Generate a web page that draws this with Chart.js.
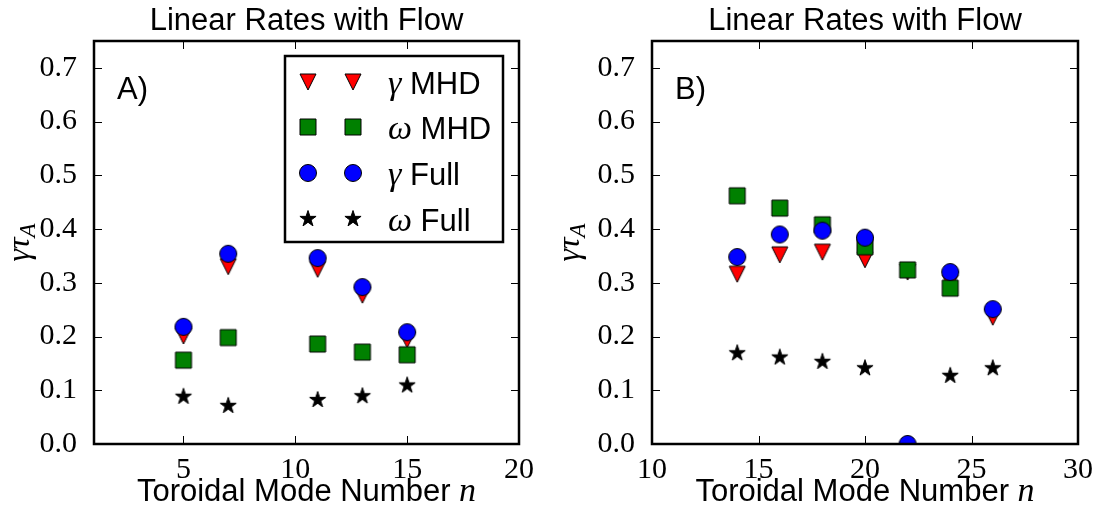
<!DOCTYPE html>
<html>
<head>
<meta charset="utf-8">
<script src="https://cdn.jsdelivr.net/npm/chart.js@4.4.1/dist/chart.umd.min.js"></script>
<style>
  html, body { margin: 0; padding: 0; background: #fff; }
  #wrap { position: relative; width: 1100px; height: 521px; }
  .panel { position: absolute; top: 0; width: 550px; height: 521px; }
</style>
</head>
<body>
<div id="wrap">
  <div class="panel" style="left:0"><canvas id="chartA" width="550" height="521"></canvas></div>
  <div class="panel" style="left:550px"><canvas id="chartB" width="550" height="521"></canvas></div>
</div>
<script>
// Panel A data
const modesA = [5, 7, 11, 13, 15];
const gammaMhdA = [0.201, 0.330, 0.325, 0.277, 0.194];
const omegaMhdA = [0.156, 0.198, 0.186, 0.171, 0.166];
const gammaFullA = [0.218, 0.354, 0.346, 0.292, 0.208];
const omegaFullA = [0.088, 0.071, 0.082, 0.089, 0.109];

// Panel B data (null = no point)
const modesB = [14, 16, 18, 20, 22, 24, 26];
const gammaMhdB = [0.316, 0.352, 0.357, 0.343, 0.320, 0.300, 0.236];
const omegaMhdB = [0.462, 0.439, 0.408, 0.367, 0.324, 0.290, null];
const gammaFullB = [0.348, 0.390, 0.397, 0.384, 0.0, 0.320, 0.251];
const omegaFullB = [0.169, 0.161, 0.153, 0.141, null, 0.127, 0.141];

// Ticks
const yTicks = [0.0, 0.1, 0.2, 0.3, 0.4, 0.5, 0.6, 0.7];
const xTicksA = [5, 10, 15, 20];
const xTicksB = [10, 15, 20, 25, 30];

const titleText = 'Linear Rates with Flow';
const xTitleText = 'Toroidal Mode Number ';
const legendLabels = [['\u03b3', ' MHD'], ['\u03c9', ' MHD'], ['\u03b3', ' Full'], ['\u03c9', ' Full']];

const SANS = '"Liberation Sans", Arial, sans-serif';
const SERIF = '"Liberation Serif", "Times New Roman", serif';

// Marker images, matplotlib-like
function makeMarker(kind, fill) {
    const c = document.createElement('canvas');
    c.width = 22; c.height = 22;
    const g = c.getContext('2d');
    const cx = 11, cy = 11;
    g.fillStyle = fill;
    g.strokeStyle = '#000';
    g.lineWidth = 1;
    g.beginPath();
    if (kind === 'tri') {
        const h = 8;
        g.moveTo(cx - h, cy - h);
        g.lineTo(cx + h, cy - h);
        g.lineTo(cx, cy + h);
        g.closePath();
    } else if (kind === 'square') {
        g.rect(cx - 8, cy - 8, 16, 16);
    } else if (kind === 'circle') {
        g.arc(cx, cy, 8.5, 0, Math.PI * 2);
    } else {
        const R = 8.5, r = R * 0.381966;
        for (let i = 0; i < 10; i++) {
            const rad = i % 2 === 0 ? R : r;
            const a = -Math.PI / 2 + i * Math.PI / 5;
            const px = cx + rad * Math.cos(a), py = cy + rad * Math.sin(a);
            i === 0 ? g.moveTo(px, py) : g.lineTo(px, py);
        }
        g.closePath();
    }
    g.fill();
    g.stroke();
    return c;
}

const markers = {
    gMhd: makeMarker('tri', '#ff0000'),
    wMhd: makeMarker('square', '#008000'),
    gFull: makeMarker('circle', '#0000ff'),
    wFull: makeMarker('star', '#000000')
};

function pts(xs, ys) {
    return xs.map((x, i) => ({ x: x, y: ys[i] })).filter(p => p.y !== null);
}

function makeDatasets(xs, gm, wm, gf, wf) {
    const base = { pointRadius: 9, showLine: false, clip: 0 };
    return [
        { ...base, label: 'gamma MHD', data: pts(xs, gm), pointStyle: markers.gMhd, order: 4 },
        { ...base, label: 'omega MHD', data: pts(xs, wm), pointStyle: markers.wMhd, order: 3 },
        { ...base, label: 'gamma Full', data: pts(xs, gf), pointStyle: markers.gFull, order: 2 },
        { ...base, label: 'omega Full', data: pts(xs, wf), pointStyle: markers.wFull, order: 1 }
    ];
}

// Box, inward ticks on all four sides, titles, panel letter, legend
const decorPlugin = {
    id: 'decor',
    afterDatasetsDraw(chart) {
        const { ctx, chartArea: a, scales: { x, y } } = chart;
        ctx.save();
        ctx.strokeStyle = '#000';
        ctx.lineWidth = 1;
        const tl = 8;
        ctx.beginPath();
        x.ticks.forEach(t => {
            const px = Math.round(x.getPixelForValue(t.value)) + 0.5;
            ctx.moveTo(px, a.bottom); ctx.lineTo(px, a.bottom - tl);
            ctx.moveTo(px, a.top); ctx.lineTo(px, a.top + tl);
        });
        y.ticks.forEach(t => {
            const py = Math.round(y.getPixelForValue(t.value)) + 0.5;
            ctx.moveTo(a.left, py); ctx.lineTo(a.left + tl, py);
            ctx.moveTo(a.right, py); ctx.lineTo(a.right - tl, py);
        });
        ctx.stroke();
        ctx.lineWidth = 2.5;
        ctx.strokeRect(a.left, a.top, a.right - a.left, a.bottom - a.top);
        ctx.restore();
    },
    afterDraw(chart, args, opts) {
        const { ctx, chartArea: a } = chart;
        const cx = (a.left + a.right) / 2;
        ctx.save();
        ctx.fillStyle = '#000';

        // title
        ctx.textAlign = 'center';
        ctx.textBaseline = 'alphabetic';
        ctx.font = '31px ' + SANS;
        ctx.fillText(titleText, cx, 30);

        // y title: gamma tau_A, rotated
        ctx.save();
        ctx.translate(22, (a.top + a.bottom) / 2);
        ctx.rotate(-Math.PI / 2);
        ctx.font = 'italic 32px ' + SERIF;
        const main = '\u03b3\u03c4';
        const wMain = ctx.measureText(main).width;
        ctx.font = 'italic 23px ' + SERIF;
        const wSub = ctx.measureText('A').width;
        const start = -(wMain + wSub) / 2;
        ctx.textAlign = 'left';
        ctx.font = 'italic 32px ' + SERIF;
        ctx.fillText(main, start, 7);
        ctx.font = 'italic 23px ' + SERIF;
        ctx.fillText('A', start + wMain, 13);
        ctx.restore();

        // x title
        ctx.textAlign = 'left';
        ctx.font = '31px ' + SANS;
        const w1 = ctx.measureText(xTitleText).width;
        ctx.font = 'italic 34px ' + SERIF;
        const w2 = ctx.measureText('n').width;
        const x0 = cx - (w1 + w2) / 2;
        ctx.font = '31px ' + SANS;
        ctx.fillText(xTitleText, x0, 501);
        ctx.font = 'italic 34px ' + SERIF;
        ctx.fillText('n', x0 + w1, 501);

        // panel letter
        ctx.font = '31px ' + SANS;
        ctx.fillText(opts.letter, a.left + 23, 99);

        // legend
        if (opts.legend) {
            const lx = 285, ly = 56, lw = 218, lh = 186;
            ctx.fillStyle = '#fff';
            ctx.fillRect(lx, ly, lw, lh);
            ctx.strokeStyle = '#000';
            ctx.lineWidth = 2.5;
            ctx.strokeRect(lx, ly, lw, lh);
            const imgs = [markers.gMhd, markers.wMhd, markers.gFull, markers.wFull];
            const rows = [82, 127, 173, 219];
            ctx.fillStyle = '#000';
            rows.forEach((ry, i) => {
                [308, 353].forEach(mx => ctx.drawImage(imgs[i], mx - 11, ry - 11));
                ctx.textBaseline = 'alphabetic';
                ctx.font = 'italic 34px ' + SERIF;
                ctx.fillText(legendLabels[i][0], 388, ry + 12);
                const gw = ctx.measureText(legendLabels[i][0]).width;
                ctx.font = '31px ' + SANS;
                ctx.fillText(legendLabels[i][1], 388 + gw, ry + 12);
            });
        }
        ctx.restore();
    }
};

function makeChart(id, xs, gm, wm, gf, wf, xMin, xMax, xTicks, letter, legend, yWidth, rightPad) {
    return new Chart(document.getElementById(id), {
        type: 'scatter',
        data: { datasets: makeDatasets(xs, gm, wm, gf, wf) },
        options: {
            responsive: false,
            animation: false,
            layout: { padding: { left: 0, right: rightPad, top: 41, bottom: 0 } },
            plugins: {
                legend: { display: false },
                tooltip: { enabled: false },
                title: { display: false },
                decor: { letter: letter, legend: legend }
            },
            scales: {
                x: {
                    type: 'linear',
                    min: xMin,
                    max: xMax,
                    grid: { display: false },
                    border: { display: false },
                    afterBuildTicks: s => { s.ticks = xTicks.map(v => ({ value: v })); },
                    afterFit: s => { s.height = 77; },
                    ticks: {
                        color: '#000',
                        padding: 0,
                        maxRotation: 0,
                        autoSkip: false,
                        font: { family: SERIF, size: 30 },
                        callback: v => String(v)
                    }
                },
                y: {
                    type: 'linear',
                    min: 0,
                    max: 0.75,
                    grid: { display: false },
                    border: { display: false },
                    afterBuildTicks: s => { s.ticks = yTicks.map(v => ({ value: v })); },
                    afterFit: s => { s.width = yWidth; },
                    ticks: {
                        color: '#000',
                        padding: 9,
                        autoSkip: false,
                        font: { family: SERIF, size: 30 },
                        callback: v => Number(v).toFixed(1)
                    }
                }
            }
        },
        plugins: [decorPlugin]
    });
}

makeChart('chartA', modesA, gammaMhdA, omegaMhdA, gammaFullA, omegaFullA, 1, 20, xTicksA, 'A)', true, 94, 31);
makeChart('chartB', modesB, gammaMhdB, omegaMhdB, gammaFullB, omegaFullB, 10, 30, xTicksB, 'B)', false, 102, 22);
</script>
</body>
</html>
